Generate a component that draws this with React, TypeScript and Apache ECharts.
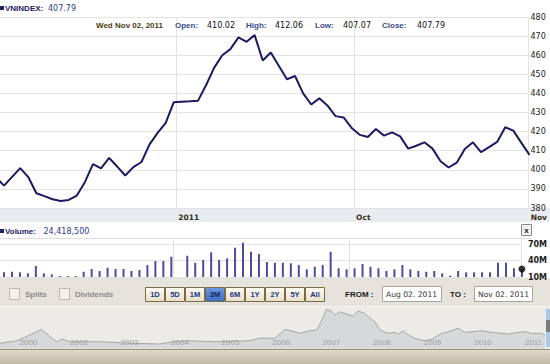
import React, { useEffect, useRef } from "react";
import * as echarts from "echarts";

// ---- Data (index = trading-day slot, -1 is the clipped point before the window) ----
const CLOSE: (number | null)[] = [
  396.0, // i = -1 (off-window)
  391.7, 396.3, 400.9, 396.2, 387.7, 386.2, 384.6, 383.7, 384.2, 386.5,
  393.5, 403.0, 400.7, 406.2, 401.7, 397.0, 401.4, 404.1, 413.3, 419.3,
  424.6, 435.4, null, 435.9, 436.2, 444.4, 453.5, 460.0, 463.2, 469.3,
  467.0, 470.5, 457.2, 461.4, 454.4, 447.4, 449.1, 440.0, 434.2, 437.4,
  433.7, 428.1, 427.4, 421.9, 418.3, 417.2, 421.4, 417.9, 419.6, 417.5,
  411.1, 412.6, 414.4, 411.1, 404.5, 401.2, 403.7, 410.9, 414.4, 409.3,
  411.9, 414.6, 422.3, 420.5, 414.1, 407.79,
];
const FIRST_INDEX = -1;

// Volume in millions of shares, index 0..65
const VOLUME_M: (number | null)[] = [
  18.5, 19.6, 18.5, 16.7, 30.0, 16.7, 14.9, 11.8, 11.8, 11.8,
  19.6, 24.5, 20.9, 26.9, 24.5, 24.5, 20.9, 22.7, 31.8, 39.1,
  39.1, 46.9, null, 48.7, 36.0, 40.9, 54.9, 40.9, 44.0, 63.3,
  72.4, 56.0, 51.8, 37.3, 36.0, 36.0, 34.9, 31.8, 24.0, 28.7,
  31.8, 56.0, 25.8, 24.0, 25.8, 33.6, 28.7, 25.8, 20.9, 24.0,
  31.8, 24.0, 20.9, 19.6, 20.9, 16.7, 12.4, 20.9, 18.5, 18.5,
  18.5, 18.5, 36.0, 36.0, 25.8, 24.4185,
];
const LAST_VOLUME_M = 24.4185;

const MONTH_TICKS = [21.3, 43.3, 64.9];
const MONTH_LABELS = ["2011", "Oct", "Nov"];
const VOL_TICKS = [10, 40, 70];
const VOL_LABELS = ["10M", "40M", "70M"];

// Overview navigator (long-term index), position in label slots
const NAV_T = [
  -0.56, -0.23, 0.1, 0.26, 0.43, 0.56, 0.66, 0.82, 1.42, 2.07, 2.6, 2.74, 3.13,
  3.73, 4.39, 4.59, 4.88, 5.08, 5.28, 5.38, 5.54, 5.71, 5.81, 5.9, 6.0, 6.07,
  6.17, 6.3, 6.43, 6.53, 6.63, 6.73, 6.86, 6.96, 7.12, 7.26, 7.32, 7.42, 7.52,
  7.65, 7.85, 7.98, 8.18, 8.31, 8.51, 8.64, 8.78, 8.97, 9.17, 9.37, 9.5, 9.7,
  9.83, 9.96, 10.16, 10.23,
];
const NAV_VAL = [
  157, 234, 455, 574, 354, 204, 285, 204, 204, 157, 136, 175, 234,
  204, 234, 315, 306, 574, 502, 455, 523, 553, 851, 1170, 1119, 1000,
  1098, 1030, 970, 1119, 1069, 950, 800, 553, 455, 485, 425, 532, 404,
  306, 234, 276, 455, 502, 604, 485, 502, 532, 485, 455, 434, 485,
  502, 455, 455, 404,
];
const NAV_YEARS = ["2000", "2002", "2003", "2004", "2005", "2006", "2007", "2008", "2009", "2010", "2011"];

const RANGE_BUTTONS = ["1D", "5D", "1M", "3M", "6M", "1Y", "2Y", "5Y", "All"];
const SELECTED_BUTTON = "3M";

const BOLD = 'bold 8px "Liberation Sans", Arial, sans-serif';
const NUM = '8px "DejaVu Sans", Verdana, sans-serif';

export default function App() {
  const ref = useRef<HTMLDivElement>(null);

  useEffect(() => {
    document.body.style.margin = "0";
    if (!ref.current) return;
    const chart = echarts.init(ref.current, undefined, { renderer: "svg" });

    const lineData = CLOSE.map((v, k) => [k + FIRST_INDEX, v]);
    const volData = VOLUME_M.map((v, k) => [k, v]);
    const navData = NAV_T.map((t, k) => [t, NAV_VAL[k]]);

    const txt = (text: string, x: number, y: number, font: string, fill: string, align = "left") => ({
      type: "text",
      x,
      y,
      z: 10,
      style: { text, font, fill, align, verticalAlign: "middle" },
    });

    const graphics: any[] = [
      // backgrounds
      { type: "rect", z: -5, shape: { x: 0, y: 208, width: 550, height: 14 }, style: { fill: "#e8ecf1" } },
      { type: "rect", z: -5, shape: { x: 0, y: 278, width: 550, height: 28 }, style: { fill: "#e6e3dc" } },
      { type: "rect", z: -5, shape: { x: 0, y: 306, width: 550, height: 43 }, style: { fill: "#ecebe6" } },
      { type: "line", z: -4, shape: { x1: 0, y1: 306.5, x2: 550, y2: 306.5 }, style: { stroke: "#f6f5f1", lineWidth: 1 } },
      {
        type: "rect",
        z: -5,
        shape: { x: 0, y: 349, width: 550, height: 15 },
        style: {
          fill: new echarts.graphic.LinearGradient(0, 0, 0, 1, [
            { offset: 0, color: "#e2dccd" },
            { offset: 1, color: "#c2b9a4" },
          ]),
        },
      },
      { type: "line", z: -4, shape: { x1: 0, y1: 349.5, x2: 550, y2: 349.5 }, style: { stroke: "#9a917a", lineWidth: 1 } },
      { type: "rect", z: 5, shape: { x: 546, y: 309, width: 4, height: 38 }, style: { fill: "#a9c9ea" } },
      { type: "rect", z: 6, shape: { x: 546, y: 320, width: 4, height: 12 }, style: { fill: "#7a7a7a" } },
      // volume panel top border
      { type: "line", z: 1, shape: { x1: 0, y1: 238.5, x2: 532, y2: 238.5 }, style: { stroke: "#dedede", lineWidth: 1 } },
      // header row
      { type: "rect", z: 10, shape: { x: 0, y: 6, width: 4, height: 4 }, style: { fill: "#1c2366" } },
      txt("VNINDEX:", 5, 8.5, BOLD, "#1c2366"),
      txt("407.79", 48, 8.5, NUM, "#2b3a8c"),
      txt("Wed Nov 02, 2011", 96, 25, BOLD, "#4b3c12"),
      txt("Open:", 175, 25, BOLD, "#3a4a8f"),
      txt("410.02", 207, 25, NUM, "#111111"),
      txt("High:", 246, 25, BOLD, "#3a4a8f"),
      txt("412.06", 275, 25, NUM, "#111111"),
      txt("Low:", 315, 25, BOLD, "#3a4a8f"),
      txt("407.07", 343, 25, NUM, "#111111"),
      txt("Close:", 382, 25, BOLD, "#3a4a8f"),
      txt("407.79", 417, 25, NUM, "#111111"),
      // volume header
      { type: "rect", z: 10, shape: { x: 0, y: 229, width: 4, height: 4 }, style: { fill: "#1c2366" } },
      txt("Volume:", 5, 231.5, BOLD, "#1c2366"),
      txt("24,418,500", 43.5, 231.5, NUM, "#2b3a8c"),
      { type: "rect", z: 10, shape: { x: 521.5, y: 224.5, width: 10, height: 11 }, style: { fill: "#f2f2f2", stroke: "#8a8a8a", lineWidth: 1 } },
      txt("x", 526.5, 230, BOLD, "#111111", "center"),
      // control bar
      { type: "rect", z: 10, shape: { x: 9.5, y: 288.5, width: 10, height: 11 }, style: { fill: "#f3f1ec", stroke: "#bdb8ab", lineWidth: 1 } },
      txt("Splits", 25, 294, BOLD, "#8a8a8a"),
      { type: "rect", z: 10, shape: { x: 59.5, y: 288.5, width: 10, height: 11 }, style: { fill: "#f3f1ec", stroke: "#bdb8ab", lineWidth: 1 } },
      txt("Dividends", 75, 294, BOLD, "#8a8a8a"),
      txt("FROM :", 345, 294, BOLD, "#1a1a1a"),
      { type: "rect", z: 10, shape: { x: 382.5, y: 286.5, width: 59, height: 15 }, style: { fill: "#ffffff", stroke: "#aaa598", lineWidth: 1 } },
      txt("Aug 02. 2011", 386, 294, '7.6px "DejaVu Sans", Verdana, sans-serif', "#333333"),
      txt("TO :", 450, 294, BOLD, "#1a1a1a"),
      { type: "rect", z: 10, shape: { x: 474.5, y: 286.5, width: 58, height: 15 }, style: { fill: "#ffffff", stroke: "#aaa598", lineWidth: 1 } },
      txt("Nov 02. 2011", 478, 294, '7.6px "DejaVu Sans", Verdana, sans-serif', "#333333"),
    ];

    RANGE_BUTTONS.forEach((b, k) => {
      const x = 145 + 20 * k;
      const sel = b === SELECTED_BUTTON;
      graphics.push({
        type: "rect",
        z: 10,
        shape: { x: x + 0.5, y: 287.5, width: 19, height: 14 },
        style: {
          fill: new echarts.graphic.LinearGradient(0, 0, 0, 1, sel
            ? [{ offset: 0, color: "#6f9ae0" }, { offset: 1, color: "#3e6cc0" }]
            : [{ offset: 0, color: "#fdfbf3" }, { offset: 1, color: "#e7dfc8" }]),
          stroke: "#7b6b44",
          lineWidth: 1,
        },
      });
      graphics.push(txt(b, x + 10, 294.5, 'bold 7.5px "Liberation Sans", Arial, sans-serif', sel ? "#0f1f60" : "#1e3580", "center"));
    });

    const option: any = {
      animation: false,
      backgroundColor: "#ffffff",
      grid: [
        { left: 0, top: 17, width: 532, height: 191 },
        { left: 0, top: 238, width: 532, height: 39 },
        { left: 0, top: 307, width: 545, height: 41.6 },
      ],
      xAxis: [
        {
          type: "value",
          gridIndex: 0,
          min: -0.5,
          max: 65,
          axisLine: { show: false },
          axisTick: { show: false, customValues: MONTH_TICKS },
          splitLine: { show: true, lineStyle: { color: "#e3e3e3", width: 1 } },
          axisLabel: {
            customValues: MONTH_TICKS,
            formatter: (v: number) => MONTH_LABELS[MONTH_TICKS.indexOf(v)] ?? "",
            align: "left",
            margin: 5,
            color: "#3a2e12",
            fontFamily: '"DejaVu Sans", Verdana, sans-serif',
            fontWeight: "bold",
            fontSize: 7.5,
            padding: [0, 0, 0, 2],
          },
        },
        {
          type: "value",
          gridIndex: 1,
          min: -0.5,
          max: 65,
          axisLine: { show: false },
          axisTick: { show: false, customValues: MONTH_TICKS },
          splitLine: { show: true, lineStyle: { color: "#e3e3e3", width: 1 } },
          axisLabel: { show: false },
        },
        {
          type: "value",
          gridIndex: 2,
          min: -0.564,
          max: 10.23,
          z: 10,
          axisLine: { show: false },
          axisTick: { show: false },
          splitLine: { show: false },
          axisLabel: {
            customValues: NAV_YEARS.map((_, k) => k),
            formatter: (v: number) => NAV_YEARS[v] ?? "",
            inside: true,
            margin: 2,
            color: "#a0a0a0",
            fontFamily: '"Liberation Sans", Arial, sans-serif',
            fontSize: 8,
          },
        },
      ],
      yAxis: [
        {
          type: "value",
          gridIndex: 0,
          position: "right",
          min: 380,
          max: 480,
          interval: 10,
          axisLine: { show: false },
          axisTick: { show: false },
          splitLine: { show: true, lineStyle: { color: "#e3e3e3", width: 1 } },
          axisLabel: {
            margin: 1,
            color: "#222222",
            fontFamily: '"DejaVu Sans", Verdana, sans-serif',
            fontSize: 8,
          },
        },
        {
          type: "value",
          gridIndex: 1,
          position: "right",
          min: 10,
          max: 81,
          axisLine: { show: false },
          axisTick: { show: false, customValues: VOL_TICKS },
          splitLine: { show: true, lineStyle: { color: "#e3e3e3", width: 1 } },
          axisLabel: {
            customValues: VOL_TICKS,
            formatter: (v: number) => VOL_LABELS[VOL_TICKS.indexOf(v)] ?? "",
            margin: 6,
            color: "#222222",
            fontFamily: '"DejaVu Sans", Verdana, sans-serif',
            fontWeight: "bold",
            fontSize: 8,
          },
        },
        {
          type: "value",
          gridIndex: 2,
          min: 0,
          max: 1240,
          show: false,
          splitLine: { show: false },
        },
      ],
      series: [
        {
          type: "line",
          xAxisIndex: 0,
          yAxisIndex: 0,
          data: lineData,
          connectNulls: true,
          showSymbol: false,
          clip: true,
          lineStyle: { color: "#1b1b63", width: 2 },
          z: 3,
        },
        {
          type: "bar",
          xAxisIndex: 1,
          yAxisIndex: 1,
          data: volData,
          barWidth: 2,
          itemStyle: { color: "#4c4c9e" },
        },
        {
          type: "scatter",
          xAxisIndex: 1,
          yAxisIndex: 1,
          data: [[VOLUME_M.length - 1, LAST_VOLUME_M]],
          symbolSize: 7,
          itemStyle: { color: "#000000" },
          z: 4,
        },
        {
          type: "line",
          xAxisIndex: 2,
          yAxisIndex: 2,
          data: navData,
          showSymbol: false,
          lineStyle: { color: "#a3a7ab", width: 1 },
          areaStyle: { color: "#d6d8da", opacity: 1 },
        },
      ],
      graphic: graphics,
    };

    chart.setOption(option);
    return () => chart.dispose();
  }, []);

  return <div ref={ref} style={{ width: 550, height: 364 }} />;
}
